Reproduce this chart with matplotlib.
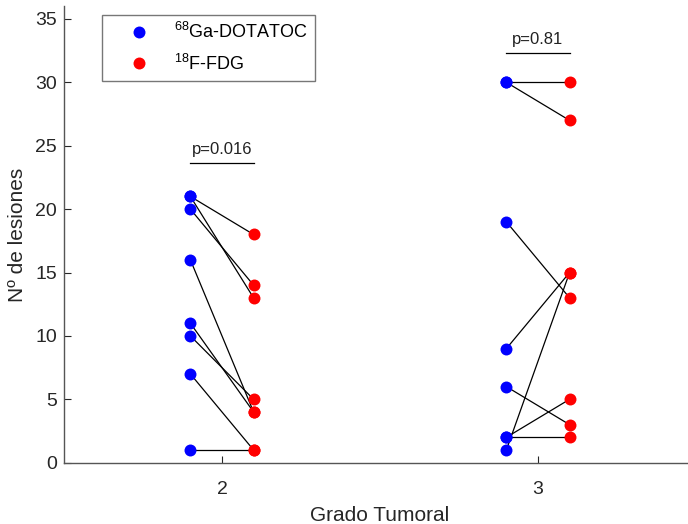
import matplotlib
matplotlib.use("Agg")
import matplotlib.pyplot as plt
from matplotlib.lines import Line2D

plt.rcParams['font.family'] = ['Liberation Sans', 'DejaVu Sans']
plt.rcParams['mathtext.fontset'] = 'custom'
plt.rcParams['mathtext.rm'] = 'Liberation Sans'
plt.rcParams['mathtext.it'] = 'Liberation Sans'
plt.rcParams['mathtext.default'] = 'regular'

grades = [2, 3]
ga_g2 = [21, 21, 20, 16, 11, 10, 7, 1]
fdg_g2 = [18, 13, 14, 4, 4, 5, 1, 1]
ga_g3 = [30, 30, 19, 9, 6, 2, 2, 1]
fdg_g3 = [30, 27, 13, 15, 3, 5, 2, 15]
pvals = ["p=0.016", "p=0.81"]
bracket_y = [23.6, 32.3]

fig = plt.figure(figsize=(6.88, 5.24), dpi=100)
ax = fig.add_axes([0.093, 0.117, 0.9186, 0.871])

off = 0.1
for g, ga, fdg in [(grades[0], ga_g2, fdg_g2), (grades[1], ga_g3, fdg_g3)]:
    for a, f in zip(ga, fdg):
        ax.plot([g - off, g + off], [a, f], color='black', lw=0.9, zorder=1)
    ax.plot([g - off] * len(ga), ga, 'o', color='blue', ms=8.6, mec='none', zorder=2)
    ax.plot([g + off] * len(fdg), fdg, 'o', color='red', ms=8.6, mec='none', zorder=2)

for g, p, by in zip(grades, pvals, bracket_y):
    ax.plot([g - off, g + off], [by, by], color='black', lw=0.9)
    ax.text(g, by + 0.5, p, ha='center', va='bottom', fontsize=12, color='#222222')

ax.set_xlim(1.5, 3.5)
ax.set_ylim(0, 36)
ax.set_xticks(grades)
ax.set_yticks(range(0, 36, 5))
ax.tick_params(labelsize=14, colors='#262626', direction='in', length=5, width=0.8)
ax.tick_params(axis='y', pad=5)
ax.tick_params(axis='x', pad=13.5)
for s in ['top', 'right']:
    ax.spines[s].set_visible(False)
for s in ['left', 'bottom']:
    ax.spines[s].set_color('#555555')
    ax.spines[s].set_linewidth(1.0)

ax.set_xlabel('Grado Tumoral', fontsize=15, color='#262626', labelpad=5.5)
ax.set_ylabel('Nº de lesiones', fontsize=15, color='#262626', labelpad=6)

handles = [Line2D([], [], marker='o', ls='none', color='blue', ms=8.6, mec='none'),
           Line2D([], [], marker='o', ls='none', color='red', ms=8.6, mec='none')]
labels = [r'$^{68}$Ga-DOTATOC', r'$^{18}$F-FDG']
leg = ax.legend(handles, labels, loc='upper left', bbox_to_anchor=(0.0597, 0.981),
                fontsize=13, frameon=True, fancybox=False, edgecolor='#555555',
                handlelength=3.3, handletextpad=0.3, borderpad=0.4,
                labelspacing=0.63, borderaxespad=0)
leg.get_frame().set_linewidth(1.0)

fig.savefig('out.png', dpi=100)
